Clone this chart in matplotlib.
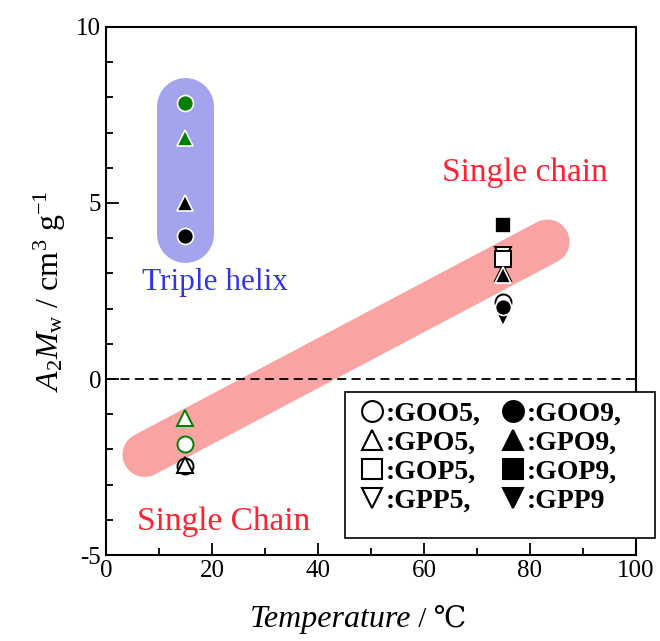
import matplotlib
matplotlib.use("Agg")
import matplotlib.pyplot as plt
from matplotlib.lines import Line2D
from matplotlib.patches import Rectangle

plt.rcParams['font.family'] = ['Liberation Serif', 'DejaVu Serif']
plt.rcParams['mathtext.fontset'] = 'custom'
plt.rcParams['mathtext.rm'] = 'Liberation Serif'
plt.rcParams['mathtext.it'] = 'Liberation Serif:italic'
plt.rcParams['mathtext.bf'] = 'Liberation Serif:bold'
plt.rcParams['axes.unicode_minus'] = False

# ---- data ----
temps_open_circle = [15, 15, 75]
vals_open_circle = [-1.85, -2.47, 2.2]
cols_open_circle = ['green', 'black', 'black']

temps_filled_circle = [15, 15, 75]
vals_filled_circle = [7.85, 4.06, 2.05]
cols_filled_circle = ['green', 'black', 'black']

temps_open_tri = [15, 15, 75]
vals_open_tri = [-1.1, -2.45, 3.0]
cols_open_tri = ['green', 'black', 'black']

temps_filled_tri = [15, 15, 75]
vals_filled_tri = [6.85, 5.0, 2.95]
cols_filled_tri = ['green', 'black', 'black']

temps_open_sq = [75]
vals_open_sq = [3.42]
temps_filled_sq = [75]
vals_filled_sq = [4.37]

temps_open_dtri = [75]
vals_open_dtri = [3.52]
temps_filled_dtri = [75]
vals_filled_dtri = [1.72]

band_x = [7.3, 83.3]
band_y = [-2.15, 3.9]
helix_x = 15
helix_y = [4.12, 7.75]

legend_labels = [":GOO5,", ":GPO5,", ":GOP5,", ":GPP5,", ":GOO9,", ":GPO9,", ":GOP9,", ":GPP9"]
legend_markers = ['o', '^', 's', 'v', 'o', '^', 's', 'v']
legend_filled = [False, False, False, False, True, True, True, True]

W, H = 660, 641
fig = plt.figure(figsize=(6.6, 6.41), dpi=100)
ax = fig.add_axes([0.1606, 0.134, 0.8030, 0.824])
ax.set_xlim(0, 100)
ax.set_ylim(-5, 10)

ax.plot(band_x, band_y, color='#f9a3a3', lw=32, solid_capstyle='round', zorder=1)
ax.plot([helix_x, helix_x], helix_y, color='#a3a3ee', lw=41, solid_capstyle='round', zorder=1)

ax.axhline(0, color='black', ls=(0, (5, 3)), lw=1.3, zorder=2)

ms = 11.5
def draw(xs, ys, cols, marker, filled):
    for x, y, c in zip(xs, ys, cols):
        if filled:
            ax.plot(x, y, marker=marker, ms=ms, mfc=c, mec='white', mew=1.2, ls='none', zorder=3)
        else:
            ax.plot(x, y, marker=marker, ms=ms, mfc='white', mec=c, mew=1.4, ls='none', zorder=3)

draw(temps_open_circle, vals_open_circle, cols_open_circle, 'o', False)
draw(temps_open_tri, vals_open_tri, cols_open_tri, '^', False)
draw(temps_open_dtri, vals_open_dtri, ['black'], 'v', False)
draw(temps_open_sq, vals_open_sq, ['black'], 's', False)
draw(temps_filled_sq, vals_filled_sq, ['black'], 's', True)
draw(temps_filled_tri, vals_filled_tri, cols_filled_tri, '^', True)
draw(temps_filled_dtri, vals_filled_dtri, ['black'], 'v', True)
draw(temps_filled_circle, vals_filled_circle, cols_filled_circle, 'o', True)

ax.text(79, 5.85, "Single chain", color='#ff2233', fontsize=24, ha='center', va='center')
ax.text(22.2, -4.06, "Single Chain", color='#ff2233', fontsize=24, ha='center', va='center')
ax.text(20.5, 2.73, "Triple helix", color='#3333ee', fontsize=22.5, ha='center', va='center')

# legend box
fig.patches.append(Rectangle((345 / W, 1 - 538 / H), 310 / W, 146 / H, transform=fig.transFigure,
                             fc='white', ec='black', lw=1.2, zorder=4))
handles = [Line2D([], [], marker=m, ls='none', ms=15, mew=1.5, mec='black',
                  mfc=('black' if f else 'white')) for m, f in zip(legend_markers, legend_filled)]
leg = fig.legend(handles, legend_labels, ncol=2, loc='upper left',
                 bbox_to_anchor=(358 / W, 1 - 401 / H),
                 prop=dict(family='Liberation Serif', weight='bold', size=20),
                 handlelength=1.0, handletextpad=0.0, columnspacing=0.65, labelspacing=0.13,
                 borderpad=0.0, borderaxespad=0, frameon=False)
leg.set_zorder(5)

ax.set_xticks([0, 20, 40, 60, 80, 100])
ax.set_xticks([10, 30, 50, 70, 90], minor=True)
ax.set_yticks([-5, 0, 5, 10])
ax.set_yticks(range(-5, 11), minor=True)
ax.tick_params(which='both', direction='in', top=False, right=False, labelsize=18, width=1.3)
ax.tick_params(which='major', length=9)
ax.tick_params(which='minor', length=5)
for s in ax.spines.values():
    s.set_linewidth(1.5)

fig.text(411 / W, 1 - 620 / H, "Temperature", style='italic', fontsize=23, ha='right', va='center')
fig.text(411 / W, 1 - 620 / H, " / \u2103", fontsize=21, ha='left', va='center',
         family=['Liberation Serif', 'DejaVu Serif'])
ax.set_ylabel(r"$A_2M_\mathrm{w}$ / cm$^3$ g$^{-1}$", fontsize=23, labelpad=6)

fig.savefig("out.png", dpi=100)
